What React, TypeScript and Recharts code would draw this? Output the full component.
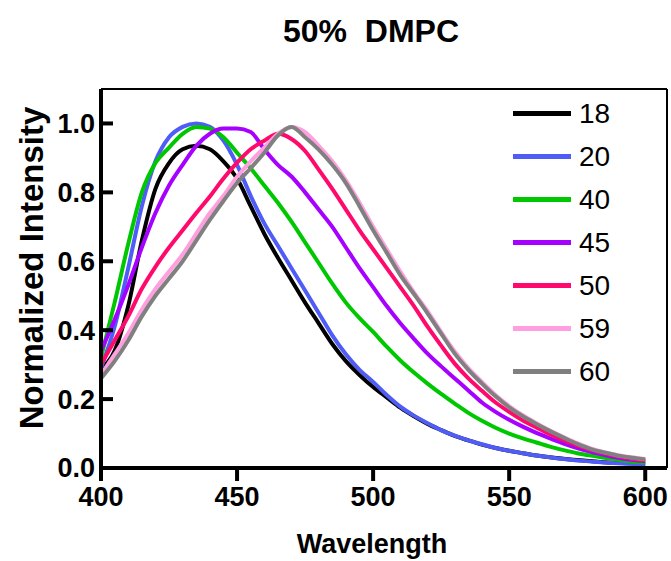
import React from 'react';
import {
    LineChart,
    Line,
    XAxis,
    YAxis,
    Legend,
    Label,
    ReferenceLine,
} from 'recharts';

const wavelengths = [
    400, 405, 410, 415, 420, 425, 430, 435, 440, 445, 450, 455, 460, 465, 470, 475, 480, 485, 490, 495,
    500, 505, 510, 515, 520, 525, 530, 535, 540, 545, 550, 555, 560, 565, 570, 575, 580, 585, 590, 595, 600,
];

const t18 = [
    0.29, 0.34, 0.47, 0.66, 0.81, 0.885, 0.925, 0.935, 0.925, 0.89, 0.84, 0.76, 0.68, 0.61, 0.545, 0.48, 0.42, 0.36, 0.31, 0.27,
    0.235, 0.205, 0.175, 0.15, 0.128, 0.11, 0.093, 0.08, 0.068, 0.058, 0.05, 0.043, 0.036, 0.031, 0.027, 0.023, 0.02, 0.017, 0.015, 0.013, 0.012,
];
const t20 = [
    0.29, 0.41, 0.58, 0.76, 0.89, 0.96, 0.99, 1.0, 0.99, 0.95, 0.88, 0.79, 0.71, 0.645, 0.58, 0.515, 0.45, 0.385, 0.33, 0.285,
    0.25, 0.212, 0.178, 0.152, 0.13, 0.11, 0.094, 0.08, 0.069, 0.058, 0.05, 0.043, 0.036, 0.031, 0.026, 0.022, 0.019, 0.016, 0.014, 0.012, 0.011,
];
const t40 = [
    0.32, 0.48, 0.65, 0.8, 0.885, 0.93, 0.97, 0.99, 0.985, 0.96, 0.915, 0.87, 0.82, 0.77, 0.715, 0.655, 0.595, 0.535, 0.48, 0.435,
    0.395, 0.352, 0.312, 0.277, 0.245, 0.215, 0.187, 0.16, 0.137, 0.117, 0.1, 0.086, 0.074, 0.062, 0.052, 0.043, 0.036, 0.03, 0.024, 0.019, 0.016,
];
const t45 = [
    0.34, 0.43, 0.53, 0.64, 0.74, 0.82, 0.88, 0.935, 0.97, 0.985, 0.985, 0.975, 0.925, 0.88, 0.846, 0.8, 0.75, 0.7, 0.64, 0.58,
    0.525, 0.47, 0.42, 0.375, 0.332, 0.295, 0.26, 0.225, 0.19, 0.163, 0.14, 0.12, 0.102, 0.086, 0.071, 0.058, 0.047, 0.038, 0.03, 0.024, 0.02,
];
const t50 = [
    0.3, 0.37, 0.44, 0.52, 0.584, 0.64, 0.69, 0.74, 0.788, 0.84, 0.886, 0.925, 0.95, 0.97, 0.955, 0.92, 0.866, 0.81, 0.75, 0.69,
    0.635, 0.58, 0.525, 0.47, 0.41, 0.355, 0.303, 0.26, 0.224, 0.19, 0.163, 0.138, 0.118, 0.098, 0.081, 0.066, 0.053, 0.043, 0.034, 0.027, 0.022,
];
const t59 = [
    0.27, 0.33, 0.39, 0.46, 0.52, 0.57, 0.62, 0.68, 0.74, 0.79, 0.845, 0.89, 0.93, 0.97, 0.99, 0.975, 0.935, 0.89, 0.835, 0.77,
    0.7, 0.635, 0.57, 0.51, 0.455, 0.395, 0.338, 0.29, 0.25, 0.212, 0.18, 0.153, 0.13, 0.109, 0.09, 0.072, 0.057, 0.046, 0.037, 0.031, 0.026,
];
const t60 = [
    0.26, 0.31, 0.37, 0.44, 0.5, 0.55, 0.6, 0.66, 0.72, 0.775, 0.827, 0.87, 0.915, 0.965, 0.99, 0.96, 0.924, 0.88, 0.827, 0.76,
    0.69, 0.625, 0.56, 0.505, 0.449, 0.39, 0.332, 0.285, 0.245, 0.208, 0.176, 0.15, 0.128, 0.107, 0.088, 0.07, 0.055, 0.045, 0.036, 0.03, 0.025,
];

const seriesNames = ['18', '20', '40', '45', '50', '59', '60'];
const seriesValues = [t18, t20, t40, t45, t50, t59, t60];
const seriesColors = ['#000000', '#4f5cf5', '#00c800', '#a600ff', '#ff0a6c', '#ff9fdf', '#808080'];

const xTicks = [400, 450, 500, 550, 600];
const yTicks = [0, 0.2, 0.4, 0.6, 0.8, 1.0];

const data = wavelengths.map((w, i) => {
    const row: Record<string, number> = { w };
    seriesNames.forEach((n, j) => {
        row['s' + n] = seriesValues[j][i];
    });
    return row;
});

const FONT = '"Liberation Sans", Arial, Helvetica, sans-serif';

function YTick(props: any) {
    const { x, y, payload } = props;
    const axisX = x + 6;
    return (
        <g>
            <line x1={axisX} x2={axisX + 12} y1={y} y2={y} stroke="#000" strokeWidth={4} />
            <text x={x} y={y} dy="0.35em" textAnchor="end" fontFamily={FONT} fontWeight="bold" fontSize={27} fill="#000">
                {Number(payload.value).toFixed(1)}
            </text>
        </g>
    );
}

function LegendBox(props: any) {
    const { payload } = props;
    return (
        <div style={{ fontFamily: FONT }}>
            {payload.map((p: any) => (
                <div key={p.value} style={{ display: 'flex', alignItems: 'center', height: 43 }}>
                    <div style={{ width: 58, height: 5, background: p.color, marginRight: 8 }} />
                    <span style={{ fontSize: 28, color: '#000', lineHeight: '28px' }}>{p.value}</span>
                </div>
            ))}
        </div>
    );
}

export default function App() {
    return (
        <div style={{ position: 'absolute', left: 0, top: 0, width: 671, height: 561, background: '#fff' }}>
            <div
                style={{
                    position: 'absolute',
                    left: 171,
                    width: 400,
                    top: 13,
                    textAlign: 'center',
                    fontFamily: FONT,
                    fontWeight: 'bold',
                    fontSize: 32,
                    whiteSpace: 'pre',
                }}
            >
                {'50%  DMPC'}
            </div>
            <LineChart width={671} height={561} data={data} margin={{ top: 89, right: 4, bottom: 33, left: 0 }}>
                <XAxis
                    dataKey="w"
                    type="number"
                    domain={[400, 608]}
                    ticks={xTicks}
                    allowDataOverflow
                    height={60}
                    tickSize={13}
                    tickMargin={6}
                    axisLine={{ stroke: '#000', strokeWidth: 4 }}
                    tickLine={{ stroke: '#000', strokeWidth: 4 }}
                    tick={{ fill: '#000', fontSize: 27, fontWeight: 'bold', fontFamily: FONT }}
                >
                    <Label
                        content={() => (
                            <text
                                x={372}
                                y={553}
                                textAnchor="middle"
                                fontFamily={FONT}
                                fontWeight="bold"
                                fontSize={27}
                                fill="#000"
                            >
                                Wavelength
                            </text>
                        )}
                    />
                </XAxis>
                <YAxis
                    type="number"
                    domain={[0, 1.1]}
                    ticks={yTicks}
                    width={101}
                    tickSize={0}
                    tickMargin={6}
                    tickLine={false}
                    axisLine={{ stroke: '#000', strokeWidth: 4 }}
                    tick={<YTick />}
                >
                    <Label
                        content={() => {
                            const cx = 31;
                            const cy = 268;
                            return (
                                <text
                                    x={cx}
                                    y={cy}
                                    transform={`rotate(-90, ${cx}, ${cy})`}
                                    textAnchor="middle"
                                    dominantBaseline="central"
                                    fontFamily={FONT}
                                    fontWeight="bold"
                                    fontSize={33}
                                    fill="#000"
                                >
                                    Normalized Intensity
                                </text>
                            );
                        }}
                    />
                </YAxis>
                <ReferenceLine y={1.1} stroke="#000" strokeWidth={2} />
                <ReferenceLine x={608} stroke="#000" strokeWidth={2} />
                {seriesNames.map((n, j) => (
                    <Line
                        key={n}
                        type="monotone"
                        dataKey={'s' + n}
                        name={n}
                        stroke={seriesColors[j]}
                        strokeWidth={4}
                        dot={false}
                        isAnimationActive={false}
                    />
                ))}
                <Legend
                    layout="vertical"
                    align="center"
                    verticalAlign="middle"
                    wrapperStyle={{ left: 513, top: 92, width: 140 }}
                    content={<LegendBox />}
                />
            </LineChart>
        </div>
    );
}
